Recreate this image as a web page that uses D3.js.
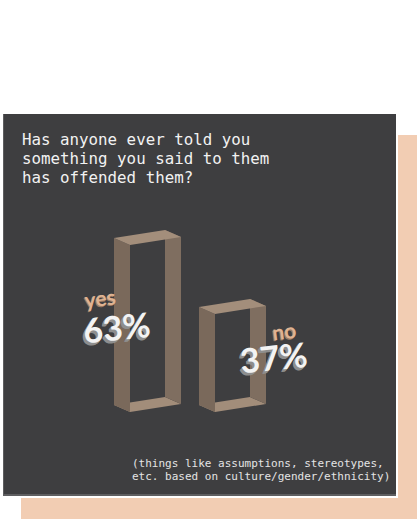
<!DOCTYPE html>
<html>
<head>
<meta charset="utf-8">
<script src="https://cdn.jsdelivr.net/npm/d3@7"></script>
<style>
  html, body { margin: 0; padding: 0; background: #ffffff; }
  svg { display: block; }
</style>
</head>
<body>
<div id="chart"></div>
<script>
// ---- data ----
const categories = ["yes", "no"];
const values = [63, 37];
const valueLabels = ["63%", "37%"];
const titleLines = [
  "Has anyone ever told you",
  "something you said to them",
  "has offended them?"
];
const noteLines = [
  "(things like assumptions, stereotypes,",
  "etc. based on culture/gender/ethnicity)"
];

// ---- layout ----
const W = 417, H = 519;
const svg = d3.select("#chart").append("svg")
  .attr("width", W).attr("height", H);

// peach backdrop
svg.append("rect")
  .attr("x", 21).attr("y", 135).attr("width", 396).attr("height", 384)
  .attr("fill", "#f2cdb3");

// dark panel with white outline
svg.append("rect")
  .attr("x", 2).attr("y", 113).attr("width", 396).attr("height", 385)
  .attr("fill", "#ffffff");
svg.append("rect")
  .attr("x", 3).attr("y", 114).attr("width", 393).attr("height", 382)
  .attr("fill", "#5e5e60");
svg.append("rect")
  .attr("x", 4).attr("y", 114).attr("width", 392).attr("height", 380)
  .attr("fill", "#3e3e40");

// title
const title = svg.append("text")
  .attr("font-family", "'DejaVu Sans Mono', monospace")
  .attr("font-size", 15.8)
  .attr("fill", "#f2f2f2");
titleLines.forEach((t, i) => {
  title.append("tspan").attr("x", 22).attr("y", 145 + i * 19).text(t);
});

// note
const note = svg.append("text")
  .attr("font-family", "'DejaVu Sans Mono', monospace")
  .attr("font-size", 11)
  .attr("fill", "#e4e4e4");
noteLines.forEach((t, i) => {
  note.append("tspan").attr("x", 132).attr("y", 467 + i * 13).text(t);
});

// ---- scales ----
const x = d3.scaleBand().domain(categories).range([130, 300]).padding(0);
const y = d3.scaleLinear().domain([0, 100]).range([412, 147]);

const barW = x.bandwidth() * 0.6;   // width of front face
const slope = -8;                    // vertical drift across bar width
const depth = [-16, -7];             // offset from front to back

const data = categories.map((c, i) => ({ c, v: values[i], label: valueLabels[i], i }));

const pt = (p) => p.join(",");
const bars = svg.append("g").selectAll("g").data(data).join("g");

bars.each(function (d) {
  const g = d3.select(this);
  const fx = x(d.c);
  const yb = y(0), yt = y(d.v);
  const FLB = [fx, yb], FRB = [fx + barW, yb + slope];
  const FLT = [fx, yt], FRT = [fx + barW, yt + slope];
  const back = (p) => [p[0] + depth[0], p[1] + depth[1]];
  const BLB = back(FLB), BRB = back(FRB), BLT = back(FLT), BRT = back(FRT);

  // bottom inner face
  g.append("polygon").attr("points", [FLB, FRB, BRB, BLB].map(pt).join(" "))
    .attr("fill", "#a28d7a");
  // right inner face
  g.append("polygon").attr("points", [FRB, FRT, BRT, BRB].map(pt).join(" "))
    .attr("fill", "#7f6e60");
  // left outer face
  g.append("polygon").attr("points", [BLT, FLT, FLB, BLB].map(pt).join(" "))
    .attr("fill", "#7a695b");
  // top outer face
  g.append("polygon").attr("points", [BLT, BRT, FRT, FLT].map(pt).join(" "))
    .attr("fill", "#a38e7b");
});

// ---- labels ----
const labelPos = [
  { cx: 101, cy: 306, vx: 118, vy: 340 },
  { cx: 285, cy: 339, vx: 275, vy: 370 }
];

data.forEach((d, i) => {
  const p = labelPos[i];
  // category word
  const cat = svg.append("g").attr("transform", `translate(${p.cx},${p.cy}) rotate(-7)`);
  cat.append("text").attr("x", -1).attr("y", 1)
    .attr("text-anchor", "middle")
    .attr("font-family", "Lato, sans-serif").attr("font-weight", 700)
    .attr("font-size", 21).attr("fill", "#9c7a62").text(d.c);
  cat.append("text")
    .attr("text-anchor", "middle")
    .attr("font-family", "Lato, sans-serif").attr("font-weight", 700)
    .attr("font-size", 21).attr("fill", "#dfb392").text(d.c);

  // value with extruded look
  const val = svg.append("g").attr("transform", `translate(${p.vx},${p.vy}) rotate(-6)`);
  [[-2.5, 2.5], [-2, 2], [-1.5, 1.5], [-1, 1]].forEach(o => {
    val.append("text").attr("x", o[0]).attr("y", o[1])
      .attr("text-anchor", "middle")
      .attr("font-family", "Lato, sans-serif").attr("font-weight", 700)
      .attr("font-size", 34).attr("fill", "#8e8e8e").text(d.label);
  });
  val.append("text")
    .attr("text-anchor", "middle")
    .attr("font-family", "Lato, sans-serif").attr("font-weight", 700)
    .attr("font-size", 34).attr("fill", "#f3f3f3").text(d.label);
});
</script>
</body>
</html>
